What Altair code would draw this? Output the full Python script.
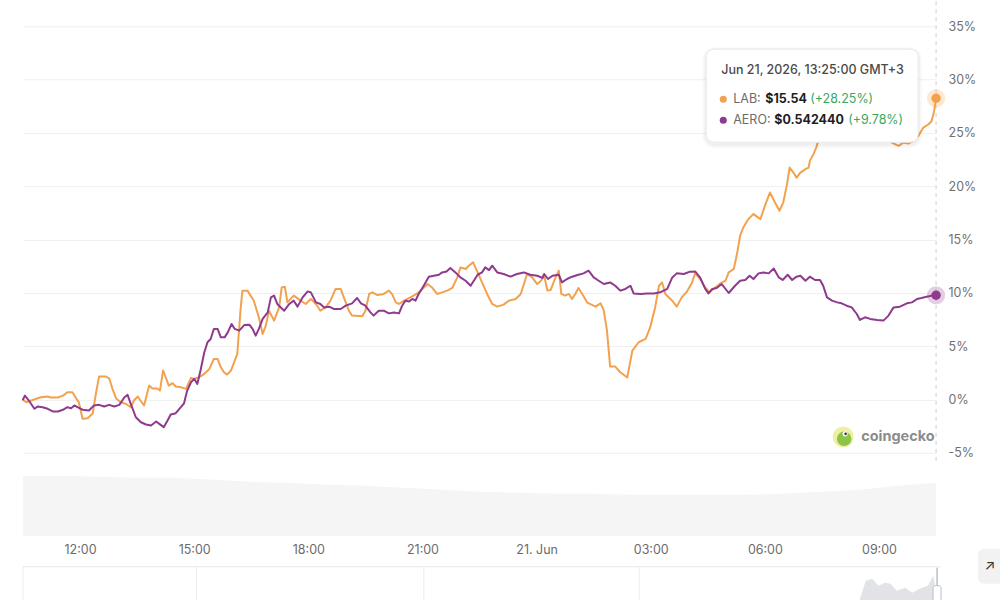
import json
import altair as alt
import pandas as pd

# ---------------- data ----------------
START = pd.Timestamp("2026-06-20T10:30:00", tz="UTC")   # left edge of the window
END = pd.Timestamp("2026-06-21T10:30:00", tz="UTC")     # right edge (last point)

# LAB: minutes after START, % change
lab_min = [0, 5, 13, 28, 39, 44, 55, 63, 70, 78,
           84, 88, 94, 102, 110, 115, 120, 131, 136, 141,
           147, 154, 162, 170, 175, 181, 186, 191, 199, 204,
           212, 216, 221, 225, 230, 236, 241, 249, 257, 265,
           270, 278, 286, 294, 301, 307, 312, 317, 322, 328,
           334, 338, 343, 346, 354, 364, 372, 378, 383, 388,
           396, 404, 408, 413, 417, 427, 438, 446, 454, 462,
           469, 477, 485, 493, 501, 506, 514, 519, 535, 540,
           546, 551, 559, 569, 577, 582, 588, 593, 601, 611,
           622, 630, 638, 645, 653, 661, 669, 677, 685, 690,
           698, 703, 710, 717, 724, 732, 740, 748, 758, 766,
           777, 785, 790, 795, 803, 811, 817, 822, 827, 832,
           840, 845, 849, 855, 861, 866, 871, 876, 882, 890,
           903, 911, 916, 921, 926, 934, 942, 953, 961, 971,
           982, 989, 997, 1003, 1008, 1013, 1024, 1031, 1039, 1047,
           1055, 1060, 1068, 1076, 1083, 1089, 1100, 1108, 1113, 1121,
           1126, 1131, 1136, 1144, 1152, 1163, 1171, 1178, 1186, 1193,
           1199, 1205, 1209, 1215, 1220, 1226, 1234, 1239, 1241, 1247,
           1251, 1255, 1265, 1281, 1297, 1312, 1328, 1344, 1360, 1371,
           1381, 1388, 1396, 1404, 1412, 1420, 1428, 1433, 1437, 1440]
lab_pct = [0.00, -0.25, -0.09, 0.22, 0.28, 0.19, 0.19, 0.37, 0.68, 0.68,
           0.09, -0.25, -1.81, -1.75, -1.31, 0.56, 2.15, 2.15, 1.97, 1.03,
           0.09, -0.25, -0.40, -0.72, -0.09, 0.28, -0.16, -0.56, 1.31, 1.03,
           1.03, 0.84, 2.72, 2.09, 1.31, 1.53, 1.22, 1.15, 1.00, 2.03,
           1.94, 2.09, 2.41, 2.87, 3.81, 3.81, 3.02, 2.56, 2.34, 2.72,
           3.65, 4.28, 8.33, 10.21, 10.21, 9.27, 7.71, 6.15, 6.93, 8.33,
           7.40, 8.64, 10.51, 10.58, 9.11, 9.74, 9.27, 8.96, 9.43, 8.96,
           8.33, 8.64, 9.27, 10.37, 10.37, 9.58, 8.33, 7.87, 7.80, 8.33,
           9.90, 10.05, 9.80, 9.90, 10.21, 9.90, 9.11, 8.96, 9.27, 9.58,
           9.95, 10.37, 10.83, 10.51, 9.90, 10.05, 10.21, 10.46, 11.45, 12.39,
           12.24, 12.55, 12.86, 11.92, 10.98, 9.90, 8.96, 8.71, 8.90, 9.27,
           9.43, 9.90, 10.83, 11.77, 11.45, 10.83, 11.14, 11.61, 10.21, 10.27,
           11.45, 12.08, 9.90, 9.74, 9.90, 9.43, 9.90, 10.46, 9.90, 9.08,
           8.71, 9.02, 8.33, 6.46, 3.09, 3.09, 2.56, 2.06, 4.59, 5.37,
           5.68, 6.74, 8.64, 10.67, 10.98, 9.90, 9.27, 8.71, 9.58, 10.11,
           10.96, 11.83, 11.30, 10.51, 10.05, 10.37, 10.89, 11.14, 11.92, 12.24,
           13.64, 15.36, 16.13, 16.92, 17.39, 16.92, 18.32, 19.41, 18.47, 17.70,
           18.47, 20.20, 21.75, 21.28, 20.81, 21.28, 21.60, 21.75, 22.38, 23.06,
           23.62, 24.41, 25.37, 26.31, 26.87, 26.31, 25.94, 25.37, 24.72, 24.06,
           23.78, 24.09, 24.00, 24.25, 24.72, 25.50, 25.81, 26.12, 27.06, 28.25]

# AERO: minutes after START, % change
aero_min = [0, 3, 10, 18, 23, 31, 39, 47, 55, 63,
            70, 76, 81, 86, 94, 104, 112, 120, 128, 136,
            144, 152, 160, 165, 170, 178, 186, 194, 202, 210,
            215, 222, 228, 233, 241, 249, 254, 259, 265, 270,
            275, 280, 286, 291, 296, 301, 307, 312, 318, 323,
            329, 334, 341, 349, 357, 362, 367, 372, 378, 386,
            391, 396, 401, 412, 420, 427, 433, 441, 449, 454,
            462, 469, 475, 483, 490, 501, 509, 519, 527, 533,
            540, 548, 553, 561, 569, 577, 585, 593, 598, 603,
            609, 614, 619, 624, 632, 640, 648, 656, 661, 668,
            674, 682, 690, 698, 706, 711, 717, 724, 729, 735,
            740, 748, 758, 769, 779, 790, 800, 811, 819, 822,
            828, 835, 845, 850, 858, 866, 876, 884, 892, 900,
            908, 916, 926, 934, 942, 950, 958, 963, 974, 984,
            995, 1005, 1016, 1024, 1031, 1042, 1052, 1060, 1068, 1076,
            1081, 1087, 1094, 1102, 1113, 1123, 1131, 1139, 1146, 1152,
            1160, 1168, 1176, 1184, 1192, 1198, 1206, 1213, 1220, 1226,
            1234, 1241, 1249, 1257, 1262, 1268, 1276, 1284, 1291, 1299,
            1307, 1315, 1320, 1328, 1336, 1347, 1357, 1365, 1373, 1383,
            1394, 1402, 1410, 1417, 1425, 1433, 1440]
aero_pct = [0.00, 0.37, -0.16, -0.87, -0.66, -0.72, -0.87, -1.12, -1.12, -0.96,
            -0.72, -0.81, -0.56, -0.72, -0.96, -1.03, -0.56, -0.50, -0.66, -0.50,
            -0.66, -0.50, 0.22, 0.44, -0.40, -1.66, -2.13, -2.34, -2.43, -2.06,
            -2.28, -2.59, -1.97, -1.40, -1.28, -0.72, -0.35, 0.84, 1.62, 1.94,
            1.47, 2.72, 4.43, 5.37, 5.68, 6.62, 6.62, 5.83, 5.83, 6.30,
            7.09, 6.62, 6.46, 6.98, 7.02, 6.62, 5.99, 6.62, 7.56, 8.17,
            9.58, 9.74, 8.96, 8.33, 8.96, 9.27, 8.71, 9.58, 10.14, 10.05,
            9.11, 8.96, 8.64, 8.71, 8.49, 8.49, 8.80, 9.02, 9.52, 9.02,
            8.80, 8.17, 7.87, 8.33, 8.33, 8.08, 8.17, 8.08, 8.80, 9.27,
            9.20, 9.43, 9.27, 9.90, 10.67, 11.52, 11.61, 11.70, 11.92, 12.01,
            12.33, 11.92, 11.45, 11.14, 10.67, 11.14, 11.70, 11.92, 12.39, 12.14,
            12.55, 11.92, 11.77, 11.52, 11.77, 11.92, 11.70, 11.61, 11.40, 11.77,
            11.30, 11.61, 11.70, 10.98, 11.30, 11.52, 11.70, 11.83, 12.08, 11.45,
            11.14, 10.83, 10.98, 10.67, 10.21, 10.37, 10.67, 9.95, 9.90, 9.95,
            9.95, 10.05, 10.37, 11.45, 11.83, 11.77, 11.99, 12.01, 11.42, 10.37,
            9.95, 10.37, 10.46, 10.83, 9.99, 10.67, 11.14, 11.21, 11.61, 11.30,
            11.83, 11.92, 11.83, 12.29, 11.45, 11.21, 11.70, 11.21, 11.52, 11.61,
            11.14, 11.52, 11.21, 11.21, 10.67, 9.58, 9.27, 9.11, 9.02, 8.80,
            8.64, 8.02, 7.46, 7.71, 7.56, 7.46, 7.40, 7.87, 8.64, 8.71,
            9.02, 9.11, 9.43, 9.52, 9.64, 9.74, 9.78]

# volume envelope (relative height), hourly
vol_min = [0, 60, 120, 180, 240, 300, 360, 420, 480, 540, 600, 660, 720,
           780, 840, 900, 960, 1020, 1080, 1140, 1200, 1260, 1320, 1380, 1440]
vol_val = [60, 60, 59, 58, 58, 56, 54, 53, 51, 50, 48, 46, 44,
           43, 42, 42, 41, 41, 41, 41, 42, 44, 46, 50, 53]

# navigator (long-range overview) - position in % of width, relative height
nav_pos = [91.6, 92.3, 93.0, 93.7, 94.4, 95.0, 95.7, 96.6, 97.4, 98.2, 99.1, 99.7, 100.0]
nav_val = [0, 20, 22, 15, 18, 17, 10, 13, 8, 12, 15, 25, 10]
nav_grid = [0.0, 19.0, 43.9, 67.5]

y_ticks = [-5, 0, 5, 10, 15, 20, 25, 30, 35]
x_tick_times = ["2026-06-20T12:00:00Z", "2026-06-20T15:00:00Z", "2026-06-20T18:00:00Z",
                "2026-06-20T21:00:00Z", "2026-06-21T00:00:00Z", "2026-06-21T03:00:00Z",
                "2026-06-21T06:00:00Z", "2026-06-21T09:00:00Z"]
x_tick_labels = ["12:00", "15:00", "18:00", "21:00", "21. Jun", "03:00", "06:00", "09:00"]

series_names = ["LAB", "AERO"]
last_pct = [28.25, 9.78]
tip_title = "Jun 21, 2026, 13:25:00 GMT+3"
tip_label = ["LAB:", "AERO:"]
tip_price = ["$15.54", "$0.542440"]
tip_change = ["(+28.25%)", "(+9.78%)"]

# ---------------- build ----------------
ORANGE = "#f2a24e"
PURPLE = "#8e3a8e"
FONT = "Inter"


def iso(m):
    return (START + pd.Timedelta(minutes=m)).strftime("%Y-%m-%dT%H:%M:%SZ")


def ms(ts):
    return int(pd.Timestamp(ts).timestamp() * 1000)


lab_df = pd.DataFrame({"t": [iso(m) for m in lab_min], "pct": lab_pct})
aero_df = pd.DataFrame({"t": [iso(m) for m in aero_min], "pct": aero_pct})
vol_df = pd.DataFrame({"t": [iso(m) for m in vol_min], "v": vol_val})
end_df = pd.DataFrame({"t": [iso(1440)] * 2, "pct": last_pct, "series": series_names})
nav_df = pd.DataFrame({"p": nav_pos, "v": nav_val})
grid_df = pd.DataFrame({"p": nav_grid})
one = pd.DataFrame({"k": [0]})

tick_ms = [ms(t) for t in x_tick_times]
x_scale = alt.Scale(type="utc", domain=[ms(START), ms(END)], nice=False)
y_scale = alt.Scale(domain=[-5, 35], nice=False, zero=False)
color_scale = alt.Scale(domain=series_names, range=[ORANGE, PURPLE])

y_axis = alt.Axis(orient="right", values=y_ticks, labelExpr="datum.value + '%'",
                  domain=False, ticks=False, grid=True, gridColor="#f0f0f0",
                  labelPadding=12, labelColor="#707070", labelFontSize=12.5,
                  labelFont=FONT, title=None)
x_main = alt.X("t:T", scale=x_scale, axis=None)
y_main = alt.Y("pct:Q", scale=y_scale, axis=y_axis)

W, H = 914, 427

crosshair = alt.Chart(pd.DataFrame({"t": [iso(1440)]})).mark_rule(
    color="#cfcfcf", strokeDash=[4, 4], strokeWidth=1
).encode(x=x_main, y=alt.value(-25), y2=alt.value(H + 8))

lab_line = alt.Chart(lab_df).mark_line(color=ORANGE, strokeWidth=2, strokeJoin="round",
                                       strokeCap="round").encode(x=x_main, y=y_main)
aero_line = alt.Chart(aero_df).mark_line(color=PURPLE, strokeWidth=2, strokeJoin="round",
                                         strokeCap="round").encode(x=x_main, y=y_main)

halo = alt.Chart(end_df).mark_circle(size=330, opacity=0.25).encode(
    x=x_main, y=y_main, color=alt.Color("series:N", scale=color_scale, legend=None))
dot = alt.Chart(end_df).mark_circle(size=90, opacity=1).encode(
    x=x_main, y=y_main, color=alt.Color("series:N", scale=color_scale, legend=None))


def box(x1, x2, y1, y2, **kw):
    return alt.Chart(one).mark_rect(**kw).encode(
        x=alt.value(x1), x2=alt.value(x2), y=alt.value(y1), y2=alt.value(y2))


def txt(s, x, y, color, size=12.5, weight="normal", align="left"):
    return alt.Chart(one).mark_text(align=align, baseline="middle", font=FONT, fontSize=size,
                                    fontWeight=weight, color=color).encode(
        x=alt.value(x), y=alt.value(y), text=alt.value(s))


def spot(x, y, size, color, opacity=1.0):
    return alt.Chart(one).mark_circle(size=size, color=color, opacity=opacity).encode(
        x=alt.value(x), y=alt.value(y))


# tooltip card
TX1, TX2, TY1, TY2 = 684, 896, 23, 116
tooltip = [
    box(TX1 - 4, TX2 + 4, TY1 - 2, TY2 + 6, color="#000000", opacity=0.025, cornerRadius=12),
    box(TX1 - 2, TX2 + 2, TY1 - 1, TY2 + 4, color="#000000", opacity=0.035, cornerRadius=10),
    box(TX1, TX2, TY1, TY2, color="#ffffff", stroke="#ececec", strokeWidth=1, cornerRadius=8),
    txt(tip_title, 699, 44, "#4a4a4a", weight=500),
    spot(701, 73, 50, ORANGE),
    spot(701, 94, 50, PURPLE),
    txt(tip_label[0], 711, 73, "#6b6b6b"),
    txt(tip_price[0], 743, 73, "#1f1f1f", weight="bold"),
    txt(tip_change[0], 788, 73, "#3aa85c"),
    txt(tip_label[1], 711, 94, "#6b6b6b"),
    txt(tip_price[1], 752, 94, "#1f1f1f", weight="bold"),
    txt(tip_change[1], 826, 94, "#3aa85c"),
]

# watermark logo
logo = [
    spot(821, 411, 441, "#f0eea0"),
    spot(822, 413, 210, "#8cc44a"),
    spot(823, 408, 26, "#ffffff"),
    spot(823.5, 408, 7, "#333333"),
    txt("coingecko", 839, 411, "#8c8c8c", size=14.5, weight="bold"),
]

main = alt.layer(crosshair, lab_line, aero_line, halo, dot, *logo, *tooltip).properties(
    width=W, height=H)

# volume panel with time axis
label_expr = f"{json.dumps(x_tick_labels)}[indexof({json.dumps(tick_ms)}, toNumber(datum.value))]"
x_axis = alt.Axis(values=tick_ms, labelExpr=label_expr, domain=False, ticks=False, grid=False,
                  labelPadding=8, labelColor="#6b6b6b", labelFontSize=12.5, labelFont=FONT,
                  labelOverlap=False, labelFlush=False, title=None)
vol = alt.Chart(vol_df).mark_area(color="#f5f5f5").encode(
    x=alt.X("t:T", scale=x_scale, axis=x_axis),
    y=alt.Y("v:Q", scale=alt.Scale(domain=[0, 65]), axis=None),
).properties(width=W, height=65)

# navigator panel
NH = 34
nav_x = alt.Scale(domain=[0, 100], nice=False, zero=False)
nav_y = alt.Scale(domain=[0, NH])
nav_layers = [
    alt.Chart(one).mark_rule(color="#e8e8e8").encode(
        x=alt.value(0), x2=alt.value(918), y=alt.value(0)),
    alt.Chart(grid_df).mark_rule(color="#ececec").encode(
        x=alt.X("p:Q", scale=nav_x, axis=None), y=alt.value(0), y2=alt.value(NH)),
    alt.Chart(nav_df).mark_area(color="#e1e3e7").encode(
        x=alt.X("p:Q", scale=nav_x, axis=None), y=alt.Y("v:Q", scale=nav_y, axis=None)),
    alt.Chart(one).mark_rule(color="#b8c0cc", strokeWidth=1.5).encode(
        x=alt.value(915), y=alt.value(1), y2=alt.value(NH)),
    box(911, 919, 19, 36, color="#ffffff", stroke="#b8c0cc", strokeWidth=1, cornerRadius=2),
    box(956, 978, -18, 17, color="#f2f2f2", cornerRadiusTopLeft=6, cornerRadiusBottomLeft=6),
    txt("↗", 968, -1, "#333333", size=14, align="center"),
]
nav = alt.layer(*nav_layers).properties(width=W, height=NH)

chart = alt.vconcat(
    main,
    alt.vconcat(vol, nav, spacing=31, bounds="flush"),
    spacing=18, bounds="flush",
).properties(
    padding={"left": 22, "top": 0, "right": 0, "bottom": 0},
    background="white",
).configure_view(stroke=None)

chart.save("out.html", embed_options={"renderer": "svg", "actions": False})
